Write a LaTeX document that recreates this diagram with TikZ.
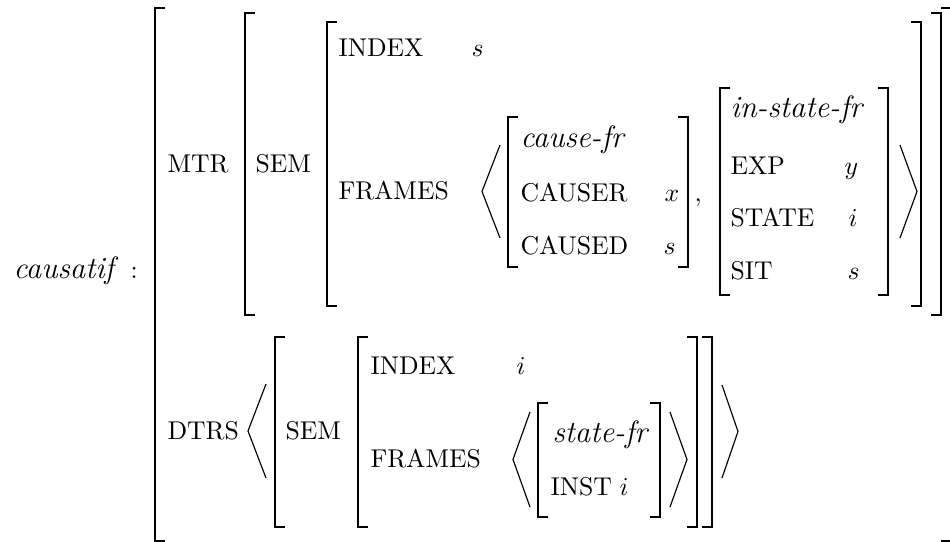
\documentclass[tikz,border=0pt]{standalone}
\usepackage{amsmath,amssymb}
\usepackage{tikz}
\usetikzlibrary{positioning,calc}

\begin{document}
\begin{tikzpicture}[x=0.389pt, y=-0.389pt,
		brk/.style={line width=0.6pt},
		ang/.style={line width=0.45pt},
		lbl/.style={anchor=base west, inner sep=0pt},
		typ/.style={lbl, font=\large\itshape}]
	% Picture frame
	\useasboundingbox (0,0) rectangle (950,542);
	
	% Type name
	\node[typ] (typ) at (13,279) {causatif};
	\node[lbl] (colon) at (130,279) {:};
	
	% Square brackets: left x / right x / top / bottom
	\foreach \xl/\xr/\yt/\yb in {
		155/951/8/541,
		245/941/13/315,
		327/921/22/306,
		508/688/117/267,
		720/888/88/295,
		275/712/337/527,
		358/697/337/527,
		538/660/403/517} {
		\draw[brk] (\xl+10,\yt) -- (\xl,\yt) -- (\xl,\yb) -- (\xl+10,\yb);
		\draw[brk] (\xr-10,\yt) -- (\xr,\yt) -- (\xr,\yb) -- (\xr-10,\yb);
	}
	
	% Angle brackets: outer x / tip x / top / bottom
	\foreach \xo/\xt/\yt/\yb in {
		500/482/145/238,
		900/917/145/238,
		266/248/384/478,
		530/513/412/507,
		670/687/412/507,
		722/738/385/478} {
		\draw[ang] (\xo,\yt) -- (\xt,{(\yt+\yb)/2}) -- (\xo,\yb);
	}
	
	% MTR part
	\node[lbl] (mtr) at (167,173) {MTR};
	\node[lbl] (sem) at (255,173) {SEM};
	\node[lbl] (index) at (338,57) {INDEX};
	\node[lbl] (indexval) at (471,57) {$s$};
	\node[lbl] (frames) at (338,200) {FRAMES};
	
	% cause-fr frame
	\node[typ] (causefr) at (520,148) {cause-fr};
	\node[lbl] (causer) at (520,202) {CAUSER};
	\node[lbl] (causerval) at (664,202) {$x$};
	\node[lbl] (caused) at (520,255) {CAUSED};
	\node[lbl] (causedval) at (663,255) {$s$};
	\node[lbl] (comma) at (694,202) {,};
	
	% in-state-fr frame
	\node[typ] (instatefr) at (730,118) {in-state-fr};
	\node[lbl] (exp) at (730,175) {EXP};
	\node[lbl] (expval) at (844,175) {$y$};
	\node[lbl] (state) at (730,227) {STATE};
	\node[lbl] (stateval) at (848,227) {$i$};
	\node[lbl] (sit) at (730,280) {SIT};
	\node[lbl] (sitval) at (847,280) {$s$};
	
	% DTRS part
	\node[lbl] (dtrs) at (167,440) {DTRS};
	\node[lbl] (dsem) at (285,440) {SEM};
	\node[lbl] (dindex) at (370,375) {INDEX};
	\node[lbl] (dindexval) at (516,375) {$i$};
	\node[lbl] (dframes) at (370,468) {FRAMES};
	
	% state-fr frame
	\node[typ] (statefr) at (552,443) {state-fr};
	\node[lbl] (inst) at (550,496) {INST};
	\node[lbl] (instval) at (619,496) {$i$};
\end{tikzpicture}
\end{document}
